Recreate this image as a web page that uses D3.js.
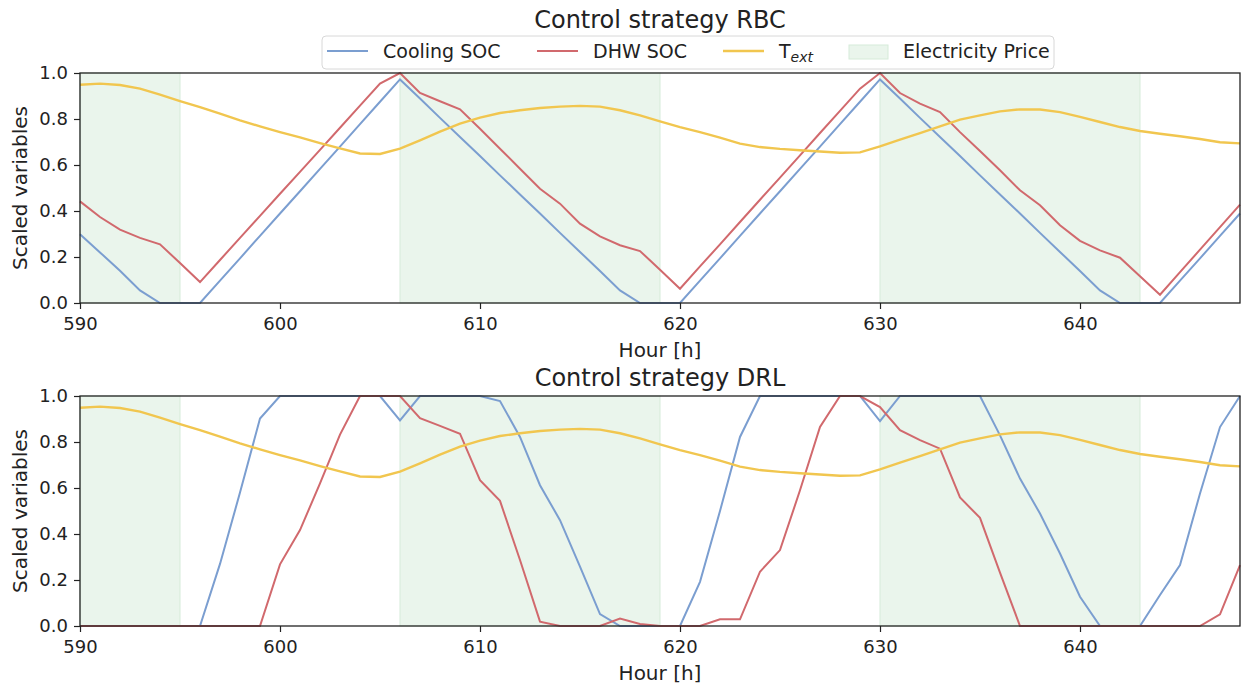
<!doctype html>
<html>
<head>
<meta charset="utf-8" />
<title>Control strategy RBC vs DRL</title>
<script src="https://cdn.jsdelivr.net/npm/d3@7"></script>
<style>
  body { margin: 0; background: #fff; }
  text { font-family: "DejaVu Sans", sans-serif; fill: #222; }
</style>
</head>
<body>
<script type="text/javascript">

 // hours on the x axis
 var hours = d3.range(590, 649);

 // outdoor temperature (scaled), same in both panels
 var tExt = [0.949,0.954,0.948,0.932,0.906,0.878,0.852,0.823,0.794,0.768,
             0.743,0.720,0.695,0.672,0.650,0.648,0.671,0.707,0.745,0.780,
             0.806,0.826,0.838,0.848,0.854,0.857,0.854,0.838,0.816,0.790,
             0.765,0.743,0.719,0.693,0.678,0.670,0.664,0.659,0.653,0.655,
             0.681,0.710,0.739,0.768,0.797,0.816,0.833,0.842,0.841,0.830,
             0.809,0.787,0.765,0.748,0.736,0.725,0.713,0.699,0.694];

 var rbcCooling = [0.299,0.220,0.140,0.055,0,0,0,0.097,0.194,0.292,
                   0.389,0.486,0.583,0.680,0.778,0.875,0.972,0.889,0.805,0.722,
                   0.639,0.555,0.472,0.389,0.305,0.222,0.139,0.055,0,0,
                   0,0.097,0.194,0.292,0.389,0.486,0.583,0.680,0.778,0.875,
                   0.972,0.889,0.805,0.722,0.639,0.555,0.472,0.389,0.305,0.222,
                   0.139,0.055,0,0,0,0.097,0.194,0.292,0.389];

 var rbcDhw = [0.442,0.374,0.319,0.283,0.255,0.174,0.091,0.187,0.283,0.379,
               0.475,0.570,0.666,0.762,0.858,0.954,1.0,0.913,0.877,0.842,
               0.758,0.671,0.584,0.497,0.432,0.345,0.290,0.251,0.226,0.145,
               0.062,0.159,0.255,0.352,0.449,0.545,0.642,0.739,0.835,0.932,
               1.0,0.913,0.867,0.830,0.743,0.661,0.577,0.490,0.425,0.338,
               0.270,0.229,0.197,0.116,0.036,0.134,0.232,0.330,0.428];

 var drlCooling = [0,0,0,0,0,0,0,0.270,0.580,0.902,
                   1,1,1,1,1,1,0.894,1,1,1,
                   1,0.978,0.822,0.612,0.460,0.258,0.052,0,0,0,
                   0,0.192,0.500,0.822,1,1,1,1,1,1,
                   0.891,1,1,1,1,1,0.829,0.641,0.489,0.315,
                   0.127,0,0,0,0.135,0.265,0.576,0.865,1.0];

 var drlDhw = [0,0,0,0,0,0,0,0,0,0,
               0.268,0.417,0.620,0.832,1,1,1,0.904,0.870,0.836,
               0.634,0.544,0.287,0.019,0,0,0,0.032,0.009,0,
               0,0,0.029,0.029,0.236,0.330,0.590,0.865,1,1,
               0.952,0.851,0.808,0.771,0.559,0.470,0.232,0,0,0,
               0,0,0,0,0,0,0,0.051,0.265];

 // high electricity price periods
 var priceStart = [590, 606, 630];
 var priceEnd   = [595, 619, 643];

 var xTicks = [590, 600, 610, 620, 630, 640];
 var yTicks = [0, 0.2, 0.4, 0.6, 0.8, 1.0];

 var c_cool = "#7b9ed0";
 var c_dhw  = "#d1696d";
 var c_ext  = "#f1c64f";
 var c_span = "#eaf5ec";

 var w = 1242, h = 686;
 var left = 80, right = 1240;

 var svg = d3.select("body").append("svg")
     .attr("width", w).attr("height", h);

 var x = d3.scaleLinear().domain([590, 648]).range([left, right]);

 var draw_panel = function(top, bottom, title, titleY, cooling, dhw){
     var y = d3.scaleLinear().domain([0, 1]).range([bottom, top]);
     var g = svg.append("g");

     // price spans
     g.selectAll(".span")
      .data(priceStart)
      .enter().append("rect")
      .attr("x", function(d){ return x(d); })
      .attr("y", top)
      .attr("width", function(d, i){ return x(priceEnd[i]) - x(d); })
      .attr("height", bottom - top)
      .attr("fill", c_span)
      .attr("stroke", "#d6ebd9")
      .attr("stroke-width", 1);

     var line = function(vals){
         return d3.line()
             .x(function(d, i){ return x(hours[i]); })
             .y(function(d){ return y(d); })(vals);
     };

     g.append("path").attr("d", line(cooling))
      .attr("fill", "none").attr("stroke", c_cool).attr("stroke-width", 2);
     g.append("path").attr("d", line(dhw))
      .attr("fill", "none").attr("stroke", c_dhw).attr("stroke-width", 2);
     g.append("path").attr("d", line(tExt))
      .attr("fill", "none").attr("stroke", c_ext).attr("stroke-width", 2.4);

     // axes
     var xa = g.append("g")
         .attr("transform", "translate(0," + bottom + ")")
         .call(d3.axisBottom(x).tickValues(xTicks).tickSize(6).tickPadding(8).tickFormat(d3.format("d")));
     var ya = g.append("g")
         .attr("transform", "translate(" + left + ",0)")
         .call(d3.axisLeft(y).tickValues(yTicks).tickSize(6).tickPadding(6).tickFormat(d3.format(".1f")));
     [xa, ya].forEach(function(a){
         a.select(".domain").remove();
         a.selectAll("line").attr("stroke", "#222").attr("stroke-width", 1.2);
         a.selectAll("text").attr("font-size", "18px").attr("font-family", "DejaVu Sans").attr("fill", "#222");
     });

     // frame
     g.append("rect")
      .attr("x", left).attr("y", top)
      .attr("width", right - left).attr("height", bottom - top)
      .attr("fill", "none").attr("stroke", "#222").attr("stroke-width", 1.3);

     g.append("text")
      .attr("x", (left + right) / 2).attr("y", titleY)
      .attr("text-anchor", "middle").attr("font-size", "24px")
      .text(title);

     g.append("text")
      .attr("x", (left + right) / 2).attr("y", bottom + 54)
      .attr("text-anchor", "middle").attr("font-size", "20px")
      .text("Hour [h]");

     g.append("text")
      .attr("transform", "translate(27," + (top + bottom) / 2 + ") rotate(-90)")
      .attr("text-anchor", "middle").attr("font-size", "20px")
      .text("Scaled variables");
 };

 draw_panel(73, 303, "Control strategy RBC", 28, rbcCooling, rbcDhw);
 draw_panel(396, 626, "Control strategy DRL", 386, drlCooling, drlDhw);

 // legend
 var lg = svg.append("g");
 lg.append("rect")
   .attr("x", 322).attr("y", 36).attr("width", 732).attr("height", 33)
   .attr("rx", 4).attr("fill", "#fff").attr("fill-opacity", 0.9)
   .attr("stroke", "#d8d8d8").attr("stroke-width", 1);

 var legendItems = [
     {label: "Cooling SOC", color: c_cool, x: 327},
     {label: "DHW SOC", color: c_dhw, x: 537},
     {label: "T", sub: "ext", color: c_ext, x: 723}
 ];
 legendItems.forEach(function(d){
     lg.append("line")
       .attr("x1", d.x).attr("x2", d.x + 41)
       .attr("y1", 51).attr("y2", 51)
       .attr("stroke", d.color).attr("stroke-width", d.sub ? 2.4 : 2);
     var t = lg.append("text")
       .attr("x", d.x + 56).attr("y", 58)
       .attr("font-size", "19px")
       .text(d.label);
     if (d.sub) {
         t.append("tspan")
          .attr("font-size", "14px").attr("font-style", "italic")
          .attr("dy", 4)
          .text(d.sub);
     }
 });
 lg.append("rect")
   .attr("x", 849).attr("y", 45).attr("width", 39).attr("height", 14)
   .attr("fill", c_span).attr("stroke", "#d6ebd9");
 lg.append("text")
   .attr("x", 903).attr("y", 58).attr("font-size", "19px")
   .text("Electricity Price");

</script>
</body>
</html>
